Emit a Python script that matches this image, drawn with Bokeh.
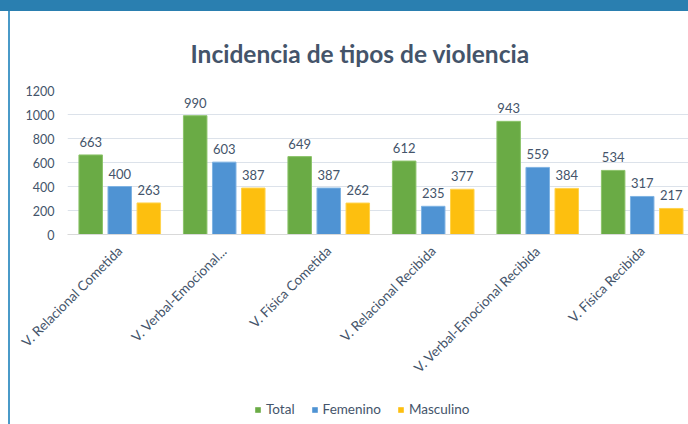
from math import pi
from bokeh.plotting import figure
from bokeh.models import Range1d, FixedTicker, Legend, LegendItem, ColumnDataSource, Div
from bokeh.layouts import column, row
from bokeh.transform import dodge
from bokeh.embed import file_html
from bokeh.resources import INLINE

categories = ["V. Relacional Cometida", "V. Verbal-Emocional...", "V. Física Cometida",
              "V. Relacional Recibida", "V. Verbal-Emocional Recibida", "V. Física Recibida"]
total = [663, 990, 649, 612, 943, 534]
femenino = [400, 603, 387, 235, 559, 317]
masculino = [263, 387, 262, 377, 384, 217]
y_ticks = [0, 200, 400, 600, 800, 1000, 1200]
series_names = ["Total", "Femenino", "Masculino"]

FONT = "Lato"
TXT = "#44546a"

idx = list(range(len(categories)))
src = ColumnDataSource(dict(
    x=idx,
    total=total, femenino=femenino, masculino=masculino,
    total_s=[str(v) for v in total],
    femenino_s=[str(v) for v in femenino],
    masculino_s=[str(v) for v in masculino],
))

p = figure(frame_width=621, frame_height=144,
           x_range=Range1d(-0.5, 5.443), y_range=Range1d(0, 1200),
           output_backend="svg", toolbar_location=None,
           min_border_left=57, min_border_right=0, min_border_top=79, min_border_bottom=160)
p.outline_line_color = None
p.background_fill_color = "white"
p.border_fill_color = "white"

p.title.text = "Incidencia de tipos de violencia"
p.title.text_font = FONT
p.title.text_font_size = "24.5px"
p.title.text_font_style = "bold"
p.title.text_color = "#44546a"
p.title.align = "left"
p.title.offset = 123
p.title.standoff = 45

p.yaxis.ticker = FixedTicker(ticks=y_ticks)
p.yaxis.axis_line_color = None
p.yaxis.major_tick_line_color = None
p.yaxis.minor_tick_line_color = None
p.yaxis.major_label_standoff = 7
p.yaxis.major_label_text_font = FONT
p.yaxis.major_label_text_font_size = "12.5px"
p.yaxis.major_label_text_color = TXT

p.xaxis.ticker = FixedTicker(ticks=idx)
p.xaxis.major_label_overrides = {i: c for i, c in zip(idx, categories)}
p.xaxis.major_label_orientation = pi / 4
p.xaxis.axis_line_color = "#d9d9d9"
p.xaxis.major_tick_line_color = None
p.xaxis.minor_tick_line_color = None
p.xaxis.major_label_standoff = 8
p.xaxis.major_label_text_font = FONT
p.xaxis.major_label_text_font_size = "13.5px"
p.xaxis.major_label_text_color = TXT

p.xgrid.visible = False
p.ygrid.ticker = FixedTicker(ticks=y_ticks)
p.ygrid.grid_line_color = "#dce2ea"

colors = ["#6aab45", "#4f93d3", "#fdbf0f"]
edges = ["#8cc36a", "#7fb3e3", "#ffd34d"]
offsets = [-0.278, 0.0, 0.278]
fields = ["total", "femenino", "masculino"]
for f, off, c, e in zip(fields, offsets, colors, edges):
    p.vbar(x=dodge("x", off, range=p.x_range), top=f, width=0.225, source=src,
           fill_color=c, line_color=e, line_width=1)
    p.text(x=dodge("x", off, range=p.x_range), y=f, text=f + "_s", source=src,
           text_align="center", text_baseline="bottom", y_offset=-8,
           text_font={"value": FONT}, text_font_size="13px", text_color=TXT)

# legend strip under the chart (own small figure so it is never clipped);
# its bar renderers are zero-height, outline-free copies that stay invisible
lg = figure(width=678, height=30, x_range=Range1d(-0.5, 5.443), y_range=Range1d(0, 1200),
            output_backend="svg", toolbar_location=None,
            x_axis_location=None, y_axis_location=None,
            min_border_left=0, min_border_right=0, min_border_top=0, min_border_bottom=0)
lg.outline_line_color = None
lg.xgrid.visible = False
lg.ygrid.visible = False
lg.background_fill_color = "white"
lg.border_fill_color = "white"
items = []
for name, f, c in zip(series_names, fields, colors):
    r = lg.vbar(x="x", top=f, bottom=f, width=0.225, source=src,
                fill_color=c, line_color=None)
    items.append(LegendItem(label=name, renderers=[r]))
legend = Legend(items=items, orientation="horizontal", location=(187, 7),
                border_line_color=None, background_fill_alpha=0,
                glyph_width=7, glyph_height=7, label_height=14, label_standoff=5, spacing=16,
                label_text_font=FONT, label_text_font_size="13.5px", label_text_color=TXT,
                padding=0, margin=0)
lg.add_layout(legend, "center")

top_bar = Div(width=688, height=11, margin=0, styles={"background-color": "#2a7fb0"})
gap = Div(width=8, height=413, margin=0, styles={"background-color": "white"})
line = Div(width=2, height=413, margin=0, styles={"background-color": "#4a9ac8"})
layout = column(top_bar, row(gap, line, column(p, lg, spacing=0), spacing=0), spacing=0)

open("out.html", "w").write(file_html(layout, INLINE))
